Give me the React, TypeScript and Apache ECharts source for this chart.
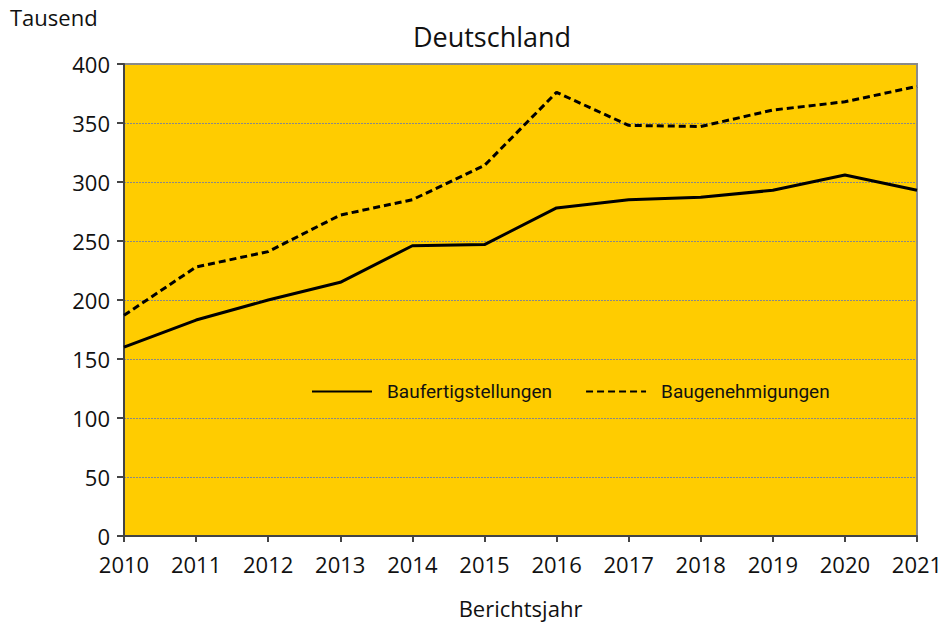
import React, { useEffect, useRef } from "react";
import * as echarts from "echarts";

const years = ["2010", "2011", "2012", "2013", "2014", "2015", "2016", "2017", "2018", "2019", "2020", "2021"];
const baufertigstellungen = [160, 183, 200, 215, 246, 247, 278, 285, 287, 293, 306, 293];
const baugenehmigungen = [187, 228, 241, 272, 285, 314, 376, 348, 347, 361, 368, 381];

export default function App() {
  const ref = useRef<HTMLDivElement>(null);
  useEffect(() => {
    if (!ref.current) return;
    const chart = echarts.init(ref.current, undefined, { renderer: "svg" });
    const font = "'Open Sans', 'Noto Sans', sans-serif";
    chart.setOption({
      animation: false,
      backgroundColor: "#ffffff",
      textStyle: { fontFamily: font, color: "#111" },
      title: {
        text: "Deutschland",
        left: 487,
        top: 18,
        textAlign: "center",
        textStyle: { fontSize: 27, fontWeight: "normal", color: "#111", fontFamily: font },
      },
      graphic: [
        { type: "text", left: 10, top: 6, style: { text: "Tausend", fontSize: 22, fill: "#111", fontFamily: font } },
      ],
      legend: {
        left: 306,
        top: 377,
        itemWidth: 60,
        itemHeight: 14,
        itemGap: 33,
        itemStyle: { opacity: 0 },
        textStyle: { fontSize: 19, color: "#111", fontFamily: "Roboto, sans-serif", padding: [0, 0, 0, 10] },
        data: [
          { name: "Baufertigstellungen", itemStyle: { opacity: 0 } },
          { name: "Baugenehmigungen", itemStyle: { opacity: 0 } },
        ],
      },
      grid: {
        left: 124,
        right: 28,
        top: 64,
        bottom: 89,
        show: true,
        outerBoundsMode: "none",
        containLabel: false,
        backgroundColor: "#FFCC00",
        borderColor: "#8a8a8a",
        borderWidth: 2,
      },
      xAxis: {
        type: "category",
        data: years,
        boundaryGap: false,
        name: "Berichtsjahr",
        nameLocation: "middle",
        nameGap: 61,
        nameTextStyle: { fontSize: 22, color: "#111", fontFamily: font },
        axisLine: { lineStyle: { color: "#444", width: 2 } },
        axisTick: { show: true, length: 6, lineStyle: { color: "#444", width: 2 } },
        axisLabel: { fontSize: 22, color: "#111", margin: 17, fontFamily: font },
        splitLine: { show: false },
      },
      yAxis: {
        type: "value",
        min: 0,
        max: 400,
        interval: 50,
        axisLine: { show: true, lineStyle: { color: "#444", width: 2 } },
        axisTick: { show: true, length: 7, lineStyle: { color: "#444", width: 2 } },
        axisLabel: { fontSize: 22, color: "#111", margin: 14, fontFamily: font },
        splitLine: { show: true, lineStyle: { color: "#888", width: 1, type: [2, 1] } },
      },
      series: [
        {
          name: "Baufertigstellungen",
          type: "line",
          data: baufertigstellungen,
          symbol: "none",
          lineStyle: { color: "#000", width: 3, type: "solid" },
          itemStyle: { color: "#000" },
        },
        {
          name: "Baugenehmigungen",
          type: "line",
          data: baugenehmigungen,
          symbol: "none",
          lineStyle: { color: "#000", width: 3, type: [7, 4] },
          itemStyle: { color: "#000" },
        },
      ],
    });
    return () => chart.dispose();
  }, []);
  return <div ref={ref} style={{ width: 945, height: 625, position: "absolute", left: 0, top: 0 }} />;
}
